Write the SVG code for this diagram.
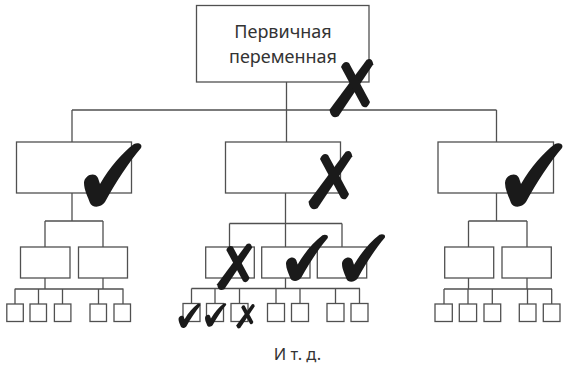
<svg xmlns="http://www.w3.org/2000/svg" xmlns:xlink="http://www.w3.org/1999/xlink" width="567" height="370" viewBox="0 0 567 370">
<defs>
<style>
.box{fill:#fff;stroke:#505050;stroke-width:1.3}
.ln{fill:none;stroke:#505050;stroke-width:1.3}
.mark{fill:#1a1a1a}
.lbl{font-family:"Noto Sans","Open Sans","DejaVu Sans",sans-serif;fill:#333;text-anchor:middle}
</style>
<path id="chk" d="M 0 38 C 0 30, 11 26, 14 33 L 16 39 C 26 22, 38 8, 50 -1 C 54 -3, 59 -1, 57 3 C 45 17, 32 37, 21 57 C 17 63, 8 63, 6 58 C 4 52, 0 45, 0 38 Z"/>
<g id="ex">
<path d="M -0.5 49.8 L 36.7 -0.3 Q 42 -3 43.3 4.3 L 8.5 56.2 Q 1 60 -0.5 49.8 Z"/>
<path d="M 11 7.1 L 32 46.1 Q 37 50 40 41.9 L 19 2.9 Q 14 0 11 7.1 Z"/>
</g>
</defs>
<rect width="567" height="370" fill="#fff"/>

<g id="connectors" class="ln">
<path d="M286.5 82V110M72 110H496.5M72 110V142M286.5 110V142M496.5 110V142"/>
<path d="M72 193V221M45 221H103M45 221V247M103 221V247M45 278V289M103 278V289M14.7 289H123.5M15 289V304M38.5 289V304M62.5 289V304M98.5 289V304M123 289V304"/>
<path d="M285.5 193V223.5M229.5 223.5H342M229.5 223.5V247M285.5 223.5V247M342 223.5V247M285.5 278V288.5M191.5 288.5H360M191.5 288.5V303.5M215 288.5V303.5M239.5 288.5V303.5M276 288.5V303.5M300 288.5V303.5M335.5 288.5V303.5M359.5 288.5V303.5"/>
<path d="M496.5 193V221M468.5 221H527M468.5 221V247M527 221V247M468.5 278V289M527 278V289M444 289H552M444 289V304M468 289V304M492.3 289V304M527.5 289V304M551.7 289V304"/>
</g>

<g id="root"><rect class="box" x="196.5" y="5.5" width="172.5" height="76.5"/>
<text class="lbl" x="283" y="38" font-size="18">Первичная</text>
<text class="lbl" x="283" y="63" font-size="18">переменная</text></g>

<g id="left"><rect class="box" x="16.5" y="142" width="115" height="51"/></g>
<g id="left-a"><rect class="box" x="20.5" y="247" width="49.5" height="31"/></g>
<g id="left-b"><rect class="box" x="78.5" y="247" width="49" height="31"/></g>
<g id="left-leaves">
<rect class="box" x="6.8" y="304" width="16.5" height="17.5"/>
<rect class="box" x="30" y="304" width="16.5" height="17.5"/>
<rect class="box" x="54.4" y="304" width="16.5" height="17.5"/>
<rect class="box" x="90" y="304" width="16.5" height="17.5"/>
<rect class="box" x="114" y="304" width="16.5" height="17.5"/>
</g>

<g id="middle"><rect class="box" x="225.5" y="142" width="115" height="51"/></g>
<g id="middle-a"><rect class="box" x="205.7" y="247" width="48.6" height="31"/></g>
<g id="middle-b"><rect class="box" x="261.7" y="247" width="48.3" height="31"/></g>
<g id="middle-c"><rect class="box" x="317.3" y="247" width="49.4" height="31"/></g>
<g id="middle-leaves">
<rect class="box" x="183" y="303.5" width="17" height="18"/>
<rect class="box" x="206.5" y="303.5" width="17" height="18"/>
<rect class="box" x="231" y="303.5" width="17" height="18"/>
<rect class="box" x="267.5" y="303.5" width="17" height="18"/>
<rect class="box" x="291.5" y="303.5" width="17" height="18"/>
<rect class="box" x="327" y="303.5" width="17" height="18"/>
<rect class="box" x="351" y="303.5" width="17" height="18"/>
</g>

<g id="right"><rect class="box" x="438" y="142" width="115.5" height="51"/></g>
<g id="right-a"><rect class="box" x="444.7" y="247" width="49" height="31"/></g>
<g id="right-b"><rect class="box" x="502" y="247" width="49.3" height="31"/></g>
<g id="right-leaves">
<rect class="box" x="435" y="304" width="17.3" height="17.5"/>
<rect class="box" x="459.3" y="304" width="17.3" height="17.5"/>
<rect class="box" x="484" y="304" width="16.7" height="17.5"/>
<rect class="box" x="519.3" y="304" width="16.7" height="17.5"/>
<rect class="box" x="543.3" y="304" width="16.7" height="17.5"/>
</g>

<g id="marks" class="mark">
<use xlink:href="#ex" transform="translate(330,60)"/>
<use xlink:href="#ex" transform="translate(309,152)"/>
<use xlink:href="#chk" transform="translate(84,145)"/>
<use xlink:href="#chk" transform="translate(505,145)"/>
<use xlink:href="#ex" transform="translate(217.5,244.3) scale(0.8)"/>
<use xlink:href="#chk" transform="translate(286,236) scale(0.73)"/>
<use xlink:href="#chk" transform="translate(342,235.5) scale(0.75)"/>
<use xlink:href="#chk" transform="translate(178.5,304.5) scale(0.38)"/>
<use xlink:href="#chk" transform="translate(205,304) scale(0.37)"/>
<use xlink:href="#ex" transform="translate(236.6,304.4) scale(0.42)"/>
</g>

<text class="lbl" x="297.5" y="360" font-size="16.5">И т. д.</text>
</svg>
